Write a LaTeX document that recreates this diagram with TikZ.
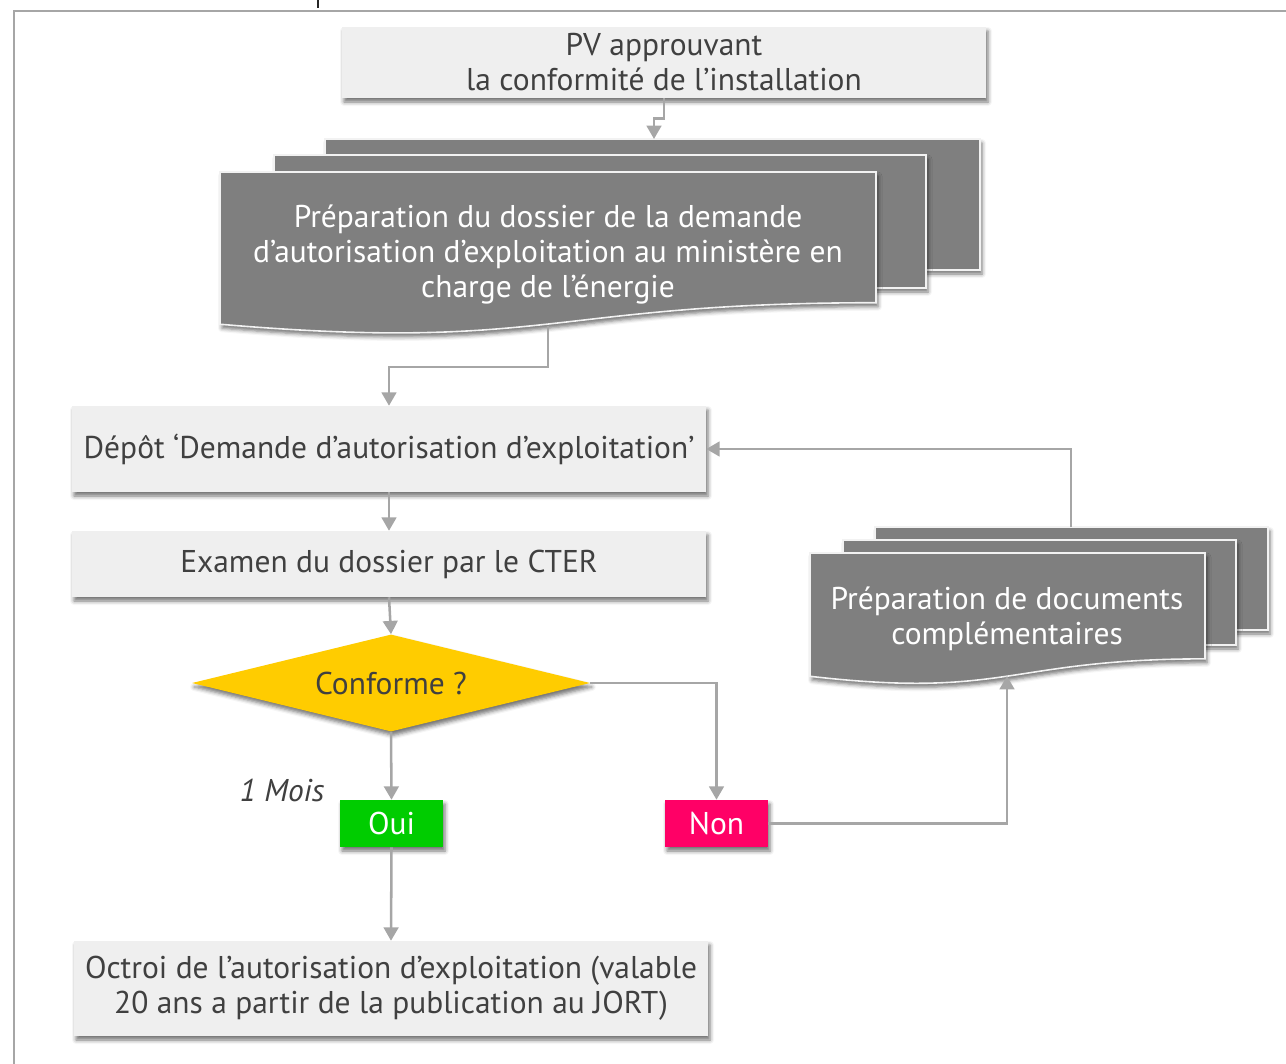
\documentclass[tikz,border=0pt]{standalone}
\usepackage{fontspec}
\setmainfont{PT Sans}
\usetikzlibrary{shapes.geometric,arrows.meta,shadows.blur,calc}
\definecolor{framec}{HTML}{A6A6A6}
\definecolor{boxfill}{HTML}{EFEFEF}
\definecolor{txt}{HTML}{404040}
\definecolor{docfill}{HTML}{7F7F7F}
\definecolor{docline}{HTML}{F2F2F2}
\definecolor{yel}{HTML}{FFCC00}
\definecolor{ouic}{HTML}{00CC00}
\definecolor{nonc}{HTML}{FF0066}
\newcommand\docshape[4]{%
  \pgfmathsetmacro\dxm{(#1+#3)/2}%
  \pgfmathsetmacro\dya{#2+0.802*#4}%
  \pgfmathsetmacro\dyb{#2+1.107*#4}%
  \pgfmathsetmacro\dyc{#2+0.934*#4}%
  \path[docstyle] (#1,#2) -- (#3,#2) -- (#3,\dya) .. controls (\dxm,\dya) and (\dxm,\dyb) .. (#1,\dyc) -- cycle;%
}
\begin{document}
\begin{tikzpicture}[x=0.75pt,y=-0.75pt,
  fnt/.style={font=\fontsize{23.6}{26.25}\selectfont},
  shd/.style={blur shadow={shadow xshift=1.5pt,shadow yshift=-3pt,shadow blur radius=3pt,shadow opacity=55}},
  box/.style={shd,fill=boxfill,text=txt,fnt,align=center,inner sep=0pt},
  docstyle/.style={shd,fill=docfill,draw=docline,line width=1.2pt},
  doctext/.style={text=white,fnt,align=center,inner sep=0pt},
  tag/.style={shd,text=white,fnt,inner sep=0pt,minimum width=103*0.75pt,minimum height=47*0.75pt},
  conn/.style={draw=framec,line width=1.9pt,-{Triangle[length=10pt,width=11pt]}}]
\useasboundingbox (0,0) rectangle (1286,1064);
% frame and the visible end of a cut-off title letter
\draw[black!85,line width=1.8pt] (318,0) -- (318,8);
\draw[framec,line width=1.6pt] (14,1070) -- (14,11) -- (1290,11);
% boxes
\node[box,minimum width=644*0.75pt,minimum height=71*0.75pt] (pv) at (664,62.5) {PV approuvant\\la conformité de l’installation};
\node[box,minimum width=634*0.75pt,minimum height=86*0.75pt] (depot) at (389,449) {Dépôt ‘Demande d’autorisation d’exploitation’};
\node[box,minimum width=634*0.75pt,minimum height=66*0.75pt] (examen) at (389,564) {Examen du dossier par le CTER};
\node[shd,shape=diamond,aspect=4.1,fill=yel,text=txt,fnt,inner sep=0pt,minimum width=398*0.75pt,minimum height=97*0.75pt] (conf) at (391,683) {Conforme ?};
\node[tag,fill=ouic] (oui) at (391.5,823.5) {Oui};
\node[tag,fill=nonc] (non) at (716.5,823.5) {Non};
\node[box,minimum width=634*0.75pt,minimum height=95*0.75pt] (octroi) at (391,988.5) {Octroi de l’autorisation d’exploitation (valable\\20 ans a partir de la publication au JORT)};
\node[text=txt,font={\fontsize{23.6}{26.25}\selectfont\itshape},inner sep=0pt] (mois) at (282,790) {1 Mois};
% document stack 1
\path[docstyle] (325,139) rectangle (980,270);
\path[docstyle] (274,155) rectangle (926,288);
\docshape{220}{172}{876}{163}
\node[doctext] (doc1) at (548,255) {Préparation du dossier de la demande\\d’autorisation d’exploitation au ministère en\\charge de l’énergie};
\coordinate (d1top) at (654,139);
\coordinate (d1bot) at (548,326);
% document stack 2
\path[docstyle] (875,527) rectangle (1268,630);
\path[docstyle] (843,540) rectangle (1236,645);
\docshape{810}{553}{1205}{132}
\node[doctext] (doc2) at (1007,619) {Préparation de documents\\complémentaires};
\coordinate (d2top) at (1071,527);
\coordinate (d2bot) at (1007,676);
% connectors
\draw[conn] (pv.south) -- ++(0,20) -| (d1top);
\draw[conn] (d1bot) -- ++(0,41) -| (depot.north);
\draw[conn] (depot.south) -- (examen.north);
\draw[conn] (examen.south) -- (conf.north);
\draw[conn] (conf.south) -- (oui.north);
\draw[conn] (conf.east) -| (non.north);
\draw[conn] (non.east) -| (d2bot);
\draw[conn] (d2top) |- (depot.east);
\draw[conn] (oui.south) -- (octroi.north);
\end{tikzpicture}
\end{document}
